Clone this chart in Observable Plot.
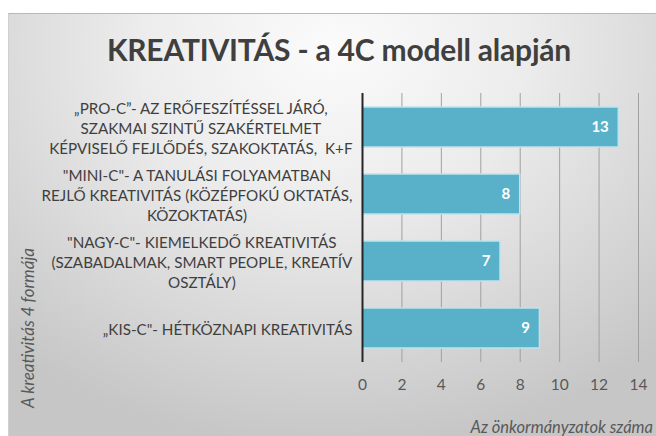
<!DOCTYPE html>
<html>
<head>
<meta charset="utf-8">
<script src="https://cdn.jsdelivr.net/npm/d3@7"></script>
<script src="https://cdn.jsdelivr.net/npm/@observablehq/plot@0.6"></script>
<style>
  html, body { margin: 0; padding: 0; background: #fff; }
  #wrap { position: relative; width: 656px; height: 436px; overflow: hidden; background: #fff; font-family: Lato, "Open Sans", sans-serif; }
  #panel { position: absolute; left: 8px; top: 13px; right: 0; bottom: 0;
    background: radial-gradient(ellipse 75% 95% at 50% 8%, #fbfbfb 0%, #ececec 40%, #d6d6d6 75%, #c6c6c6 100%);
    border-top: 1px solid #b8b8b8; border-left: 1px solid #d0d0d0; }
  #title { position: absolute; left: 22px; right: 0; top: 31px; text-align: center; font-weight: bold; font-size: 30px; color: #3f3f3f; letter-spacing: -0.2px; }
  #chart { position: absolute; left: 0; top: 80px; }
  #xtitle { position: absolute; right: 3px; top: 417px; font-style: italic; font-size: 16.5px; color: #595959; white-space: nowrap; }
  #ytitle { position: absolute; left: 27px; top: 328px; transform: translate(-50%, -50%) rotate(-90deg); font-style: italic; font-size: 17px; color: #595959; white-space: nowrap; }
</style>
</head>
<body>
<div id="wrap">
  <div id="panel"></div>
  <div id="title"></div>
  <div id="chart"></div>
  <div id="xtitle"></div>
  <div id="ytitle"></div>
</div>
<script>
const titleText = "KREATIVITÁS - a 4C modell alapján";
const xTitle = "Az önkormányzatok száma";
const yTitle = "A kreativitás 4 formája";
const categories = ["PRO-C", "MINI-C", "NAGY-C", "KIS-C"];
const categoryLabels = [
  "„PRO-C”- AZ ERŐFESZÍTÉSSEL JÁRÓ,\nSZAKMAI SZINTŰ SZAKÉRTELMET\nKÉPVISELŐ FEJLŐDÉS, SZAKOKTATÁS,  K+F",
  "\"MINI-C\"- A TANULÁSI FOLYAMATBAN\nREJLŐ KREATIVITÁS (KÖZÉPFOKÚ OKTATÁS,\nKÖZOKTATÁS)",
  "\"NAGY-C\"- KIEMELKEDŐ KREATIVITÁS\n(SZABADALMAK, SMART PEOPLE, KREATÍV\nOSZTÁLY)",
  "„KIS-C\"- HÉTKÖZNAPI KREATIVITÁS"
];
const values = [13, 8, 7, 9];
const xTicks = [0, 2, 4, 6, 8, 10, 12, 14];

document.getElementById("title").textContent = titleText;
document.getElementById("xtitle").textContent = xTitle;
document.getElementById("ytitle").textContent = yTitle;

const data = categories.map((c, i) => ({cat: c, value: values[i], label: categoryLabels[i]}));

const labelFont = "Lato, 'Open Sans', sans-serif";
const labelSize = 15.2;
const ctx = document.createElement("canvas").getContext("2d");
ctx.font = `${labelSize}px ${labelFont}`;
const gap = 10;
const labelMarks = data.map(d => {
  const w = d3.max(d.label.split("\n"), l => ctx.measureText(l).width);
  return Plot.text([d], {
    y: "cat", text: "label", frameAnchor: "left", textAnchor: "middle",
    dx: -(gap + w / 2), lineHeight: 1.33, fontSize: labelSize, fill: "#3f3f3f"
  });
});

const chart = Plot.plot({
  width: 656,
  height: 356,
  marginTop: 13,
  marginBottom: 74,
  marginLeft: 362,
  marginRight: 18,
  style: {background: "transparent", fontFamily: labelFont, overflow: "visible"},
  x: {domain: [0, 14], label: null},
  y: {domain: categories, paddingInner: 0.4, paddingOuter: 0.2, axis: null},
  marks: [
    Plot.ruleX(xTicks.filter(t => t > 0), {stroke: "#a0a0a0", strokeWidth: 1}),
    Plot.barX(data, {x: "value", y: "cat", fill: "#58b1c9", stroke: "#bfe3ec", strokeWidth: 1.5}),
    Plot.ruleX([0], {stroke: "#262626", strokeWidth: 2}),
    Plot.axisX({ticks: xTicks, tickSize: 0, tickPadding: 16, fontSize: 15.5, color: "#595959", label: null}),
    Plot.text(data, {x: "value", y: "cat", text: d => String(d.value), textAnchor: "end", dx: -10,
      fill: "white", fontWeight: "bold", fontSize: 15}),
    ...labelMarks
  ]
});
document.getElementById("chart").appendChild(chart);
</script>
</body>
</html>
